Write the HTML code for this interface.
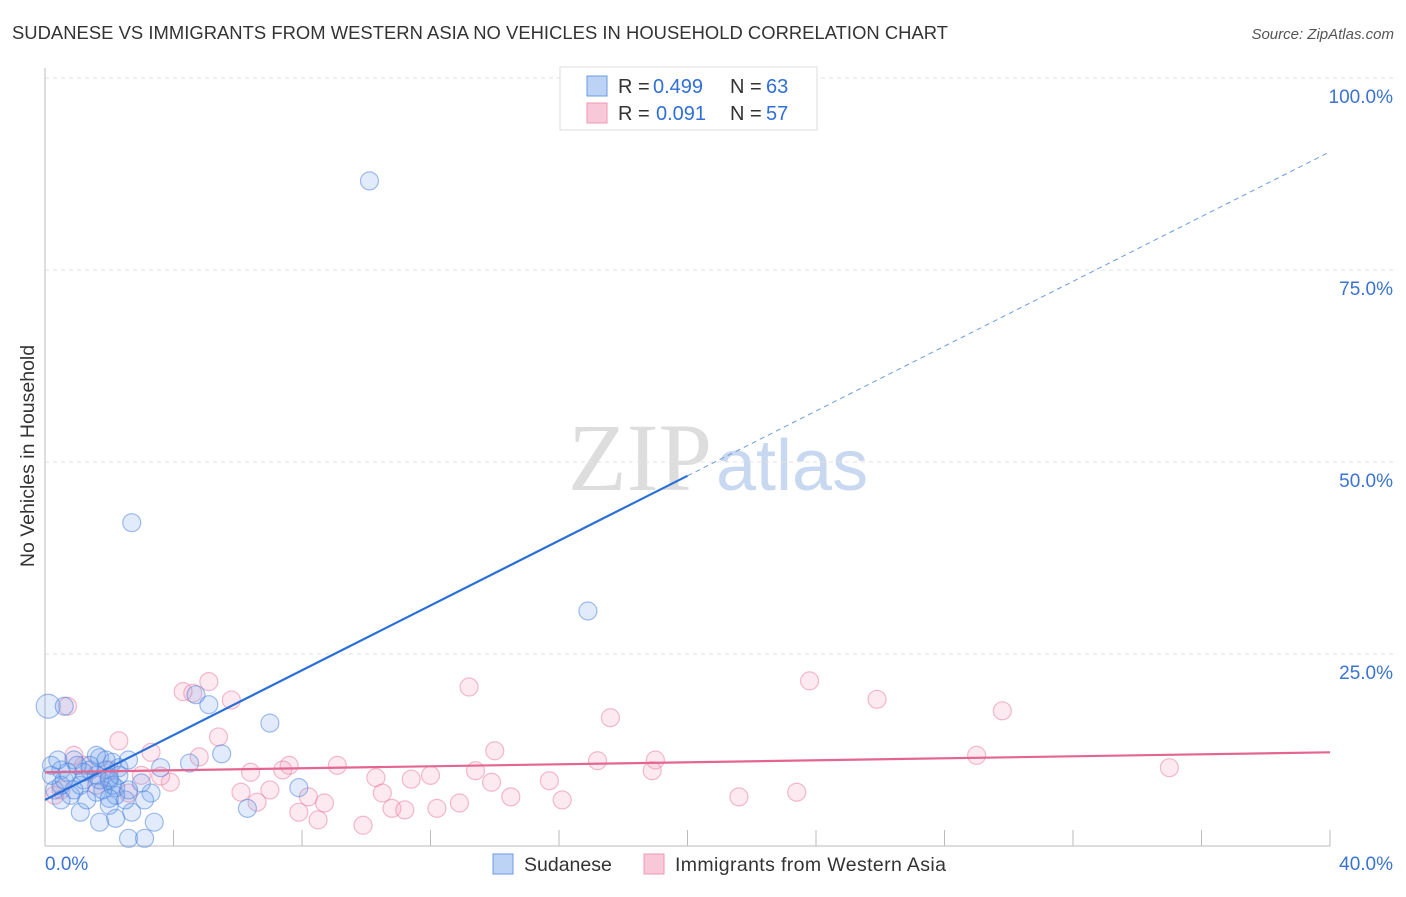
<!DOCTYPE html>
<html><head><meta charset="utf-8"><style>
body{margin:0;background:#fff;font-family:"Liberation Sans",sans-serif;}
</style></head><body>
<svg width="1406" height="892" xmlns="http://www.w3.org/2000/svg" id="chart">
<text x="12" y="39" font-size="18.4" fill="#333" textLength="936">SUDANESE VS IMMIGRANTS FROM WESTERN ASIA NO VEHICLES IN HOUSEHOLD CORRELATION CHART</text>
<text x="1394" y="39" font-size="15" fill="#555" font-style="italic" text-anchor="end">Source: ZipAtlas.com</text>
<text x="712" y="490" font-size="96" fill="#ddd" text-anchor="end" font-family="Liberation Serif,serif">ZIP</text>
<text x="716" y="490" font-size="72" fill="#c8d8f0">atlas</text>
<g id="grid"></g><g id="axes"></g><g id="pts"></g><g id="trend"></g>
<text x="34" y="456" font-size="19.5" fill="#333" text-anchor="middle" transform="rotate(-90 34 456)">No Vehicles in Household</text>
<g>
<rect x="560" y="67" width="257" height="63" fill="#fff" stroke="#ddd"/>
<rect x="587" y="76" width="20" height="20" fill="#bcd3f5" stroke="#6a9be3"/>
<rect x="587" y="103" width="20" height="20" fill="#f9c8d8" stroke="#ee9ab5"/>
<text x="618" y="93" font-size="20" fill="#333">R =</text>
<text x="653" y="93" font-size="20" fill="#2f6fd6">0.499</text>
<text x="730" y="93" font-size="20" fill="#333">N =</text>
<text x="766" y="93" font-size="20" fill="#2f6fd6">63</text>
<text x="618" y="120" font-size="20" fill="#333">R =</text>
<text x="656" y="120" font-size="20" fill="#2f6fd6">0.091</text>
<text x="730" y="120" font-size="20" fill="#333">N =</text>
<text x="766" y="120" font-size="20" fill="#2f6fd6">57</text>
</g>
<g>
<rect x="493" y="854" width="20" height="20" fill="#bcd3f5" stroke="#6a9be3"/>
<text x="524" y="871" font-size="19.5" fill="#333">Sudanese</text>
<rect x="644" y="854" width="20" height="20" fill="#f9c8d8" stroke="#ee9ab5"/>
<text x="675" y="871" font-size="19.5" fill="#333" textLength="271">Immigrants from Western Asia</text>
</g>
</svg>
<script>
const blueX=[10.1,2.7,16.9,0.1,0.6,4.7,5.1,7.0,5.5,4.5,3.6,7.9,6.3,2.7,3.4,1.7,2.6,3.1,2.2,1.1,2.0,2.5,3.3,3.0,2.2,1.6,0.8,0.3,0.5,0.9,1.4,1.7,2.1,2.3,2.6,1.9,1.2,0.6,0.2,1.1,2.0,1.6,0.5,1.3,2.2,0.9,0.2,1.6,2.1,3.1,1.4,1.2,0.7,1.8,2.3,0.4,1.0,2.0,2.6,0.5,1.7,2.0,1.9];
const blueY=[86.6,42.1,30.6,18.2,18.2,19.7,18.4,16.0,12.0,10.8,10.2,7.6,4.9,4.4,3.1,3.1,1.0,1.0,3.6,4.4,5.3,6.0,6.9,8.2,7.6,7.0,6.6,7.3,9.9,11.2,9.9,11.5,10.9,10.2,11.2,9.9,8.6,8.6,9.2,7.9,8.6,11.8,7.9,6.0,6.6,7.3,10.5,9.2,7.9,6.0,10.5,9.6,9.6,7.3,9.2,11.2,10.5,6.2,7.3,6.0,8.6,8.9,11.2];
const pinkX=[0.7,4.3,5.1,4.6,5.8,13.2,23.8,25.9,29.8,17.6,5.4,2.3,3.3,14.0,4.8,7.6,9.1,17.2,19.0,29.0,35.0,18.9,6.4,7.4,10.3,11.4,12.0,13.4,13.9,15.7,3.9,3.6,6.1,7.0,8.2,10.5,2.6,6.6,8.7,14.5,16.1,21.6,23.4,10.8,11.2,12.2,12.9,7.9,8.5,9.9,0.3,1.2,2.0,0.5,0.9,1.6,3.0];
const pinkY=[18.2,20.1,21.4,19.9,19.0,20.7,21.5,19.1,17.6,16.7,14.2,13.7,12.2,12.4,11.6,10.5,10.5,11.1,11.2,11.8,10.2,9.8,9.6,9.9,8.9,8.7,9.2,9.8,8.3,8.5,8.3,9.1,7.0,7.3,6.4,6.9,6.9,5.7,5.6,6.4,6.0,6.4,7.0,4.9,4.7,4.9,5.6,4.4,3.4,2.7,6.6,10.5,9.9,7.3,11.8,7.9,9.2];
const yTicks=[25,50,75,100];
const yTickLabels=["25.0%","50.0%","75.0%","100.0%"];
const blueTrend=[6.0,90.4];
const pinkTrend=[9.6,12.2];
const NS="http://www.w3.org/2000/svg";
const sx=v=>45+v/40*1285, sy=v=>846-v*7.68;
function mk(tag,attrs,parent){const e=document.createElementNS(NS,tag);for(const k in attrs)e.setAttribute(k,attrs[k]);parent.appendChild(e);return e;}
const grid=document.getElementById('grid'),axes=document.getElementById('axes'),pts=document.getElementById('pts'),tr=document.getElementById('trend');
yTicks.forEach((t,i)=>{
 const l=mk('line',{x1:45,x2:1395,y1:sy(t),y2:sy(t),stroke:'#e2e2e2','stroke-dasharray':'4,4'},grid);
 
 
 const tx=mk('text',{x:1393,y:sy(t)+25,'font-size':19,fill:'#3b73d1','text-anchor':'end'},grid);
 tx.textContent=yTickLabels[i];
 
 
});
const ya=mk('line',{x1:45,x2:45,y1:68,y2:846,stroke:'#bbb'},axes);


const xa=mk('line',{x1:45,x2:1330,y1:846,y2:846,stroke:'#bbb'},axes);


for(let i=1;i<=10;i++){const t=mk('line',{x1:sx(i*4),x2:sx(i*4),y1:830,y2:846,stroke:'#bbb'},axes);
 
 }
const xl0=mk('text',{x:45,y:870,'font-size':19,fill:'#3b73d1'},axes);xl0.textContent='0.0%';


const xl1=mk('text',{x:1393,y:870,'font-size':19,fill:'#3b73d1','text-anchor':'end'},axes);xl1.textContent='40.0%';


pinkX.forEach((x,i)=>{const c=mk('circle',{cx:sx(x),cy:sy(pinkY[i]),r:9,fill:'rgba(244,160,188,0.22)',stroke:'rgba(232,120,160,0.5)','stroke-width':1.2},pts);
 
 });
blueX.forEach((x,i)=>{const c=mk('circle',{cx:sx(x),cy:sy(blueY[i]),r:i==3?12:9,fill:'rgba(120,165,235,0.22)',stroke:'rgba(70,125,220,0.5)','stroke-width':1.2},pts);
 
 });
const bAt=x=>blueTrend[0]+(blueTrend[1]-blueTrend[0])*x/40;
const b1=mk('line',{x1:sx(0),y1:sy(bAt(0)),x2:sx(20),y2:sy(bAt(20)),stroke:'#2a6fd8','stroke-width':2.2},tr);


const b2=mk('line',{x1:sx(20),y1:sy(bAt(20)),x2:sx(40),y2:sy(bAt(40)),stroke:'#6a9be3','stroke-width':1,'stroke-dasharray':'5,4'},tr);


const p1=mk('line',{x1:sx(0),y1:sy(pinkTrend[0]),x2:sx(40),y2:sy(pinkTrend[1]),stroke:'#e4668e','stroke-width':2.2},tr);


</script>
</body></html>
